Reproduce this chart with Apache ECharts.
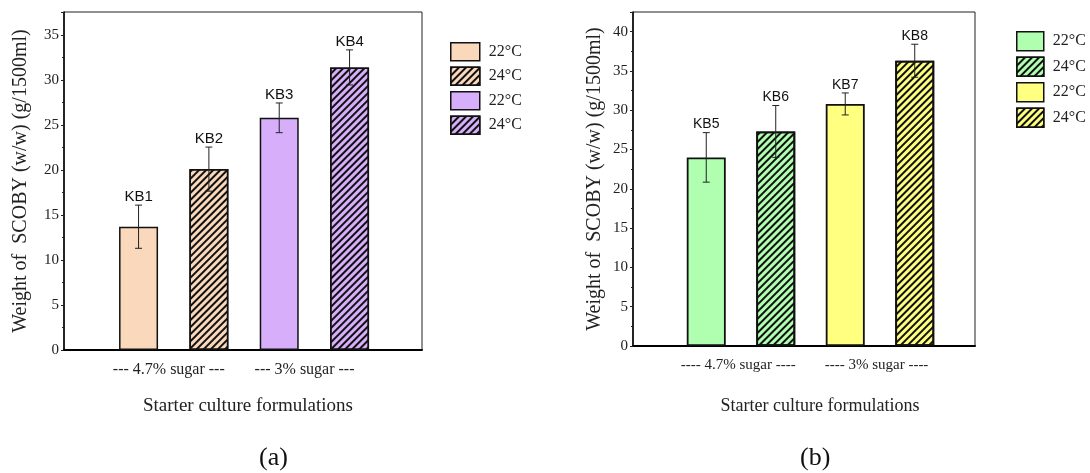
<!DOCTYPE html>
<html>
<head>
<meta charset="utf-8">
<script src="https://cdn.jsdelivr.net/npm/echarts@6/dist/echarts.min.js"></script>
<style>
html,body{margin:0;padding:0;background:#fff;}
#chart{width:1090px;height:473px;}
</style>
</head>
<body>
<div id="chart"></div>
<script>
// ---- Data: panel (a) ----
const namesA = ['KB1', 'KB2', 'KB3', 'KB4'];
const valuesA = [13.7, 20.1, 25.8, 31.4];
const errorsA = [2.4, 2.45, 1.65, 1.95];
const legendA = ['22°C', '24°C', '22°C', '24°C'];
const groupsA = ['--- 4.7% sugar ---', '--- 3% sugar ---'];
// ---- Data: panel (b) ----
const namesB = ['KB5', 'KB6', 'KB7', 'KB8'];
const valuesB = [24.0, 27.3, 30.8, 36.3];
const errorsB = [3.15, 3.3, 1.4, 2.1];
const legendB = ['22°C', '24°C', '22°C', '24°C'];
const groupsB = ['---- 4.7% sugar ----', '---- 3% sugar ----'];
const yTicks = [0, 5, 10, 15, 20, 25, 30, 35, 40];
const xTitle = 'Starter culture formulations';
const yTitle = 'Weight of  SCOBY (w/w) (g/1500ml)';
const panelTags = ['(a)', '(b)'];

const SERIF = 'Liberation Serif, Times New Roman, serif';
const SANS = 'Liberation Sans, Arial, sans-serif';
const colorsA = ['#F9D8BB', '#F9D8BB', '#D6AEFA', '#D6AEFA'];
const colorsB = ['#B0FFB0', '#B0FFB0', '#FFFF80', '#FFFF80'];
const hatched = [false, true, false, true];

function hatch(line, gap) {
  return {
    symbol: 'rect', symbolSize: 1, color: '#111',
    dashArrayX: [1, 0], dashArrayY: [line, gap],
    rotation: -Math.PI / 4
  };
}

const chart = echarts.init(document.getElementById('chart'), null, {renderer: 'canvas'});

function panelAxes(gi, ymax, xmin, xmax, groups, labelPos, labelSize, nameSize, nameGap, namePad, yNameGap) {
  const x = {
    type: 'value', gridIndex: gi, min: xmin, max: xmax,
    splitLine: {show: false},
    axisLine: {show: true, onZero: false, lineStyle: {color: '#000', width: 2}},
    axisTick: {show: false},
    axisLabel: {
      customValues: labelPos,
      formatter: function (v) { return v < 2.5 ? groups[0] : groups[1]; },
      fontFamily: SERIF, fontSize: labelSize, color: '#222', margin: 12
    },
    name: xTitle, nameLocation: 'middle', nameGap: nameGap,
    nameTextStyle: {fontFamily: SERIF, fontSize: nameSize, color: '#222', padding: namePad}
  };
  const y = {
    type: 'value', gridIndex: gi, min: 0, max: ymax, interval: 5,
    splitLine: {show: false},
    axisLine: {show: true, onZero: false, lineStyle: {color: '#000', width: 1.5}},
    axisTick: {show: true, length: 3, inside: false, lineStyle: {color: '#222'}},
    minorTick: {show: true, splitNumber: 2, length: 2, lineStyle: {color: '#222'}},
    axisLabel: {fontFamily: SERIF, fontSize: 15, color: '#222', margin: 5, showMaxLabel: false,
      formatter: function (v) { return yTicks.indexOf(v) >= 0 ? String(v) : ''; }},
    name: yTitle, nameLocation: 'middle', nameGap: yNameGap,
    nameTextStyle: {fontFamily: SERIF, fontSize: 20, color: '#222'}
  };
  return {x: x, y: y};
}

const axA = panelAxes(0, 37.56, -0.06, 5.03, groupsA, [1.43, 3.36], 16, 19, 47, [0, 0, 0, 10], 33);
const axB = panelAxes(1, 42.5, -0.054, 4.867, groupsB, [1.46, 3.45], 15, 18, 51, [0, 0, 0, 32], 28);

function barSeries(names, values, colors, gi, line, gap, bw, borderW) {
  return names.map(function (n, i) {
    const style = {color: colors[i], borderColor: '#111', borderWidth: borderW};
    if (hatched[i]) style.decal = hatch(line, gap);
    return {
      type: 'bar', name: n, xAxisIndex: gi, yAxisIndex: gi,
      barWidth: bw, barGap: '-100%',
      data: [[i + 1, values[i]]],
      itemStyle: style,
      emphasis: {disabled: true},
      z: 2
    };
  });
}

function errSeries(names, values, errors, gi, fontSize) {
  return {
    type: 'custom', xAxisIndex: gi, yAxisIndex: gi, z: 5, silent: true,
    data: values.map(function (v, i) { return [i + 1, v, errors[i]]; }),
    renderItem: function (params, api) {
      const x = api.value(0), v = api.value(1), e = api.value(2);
      const top = api.coord([x, v + e]);
      const bot = api.coord([x, v - e]);
      const c = 3.5;
      const st = {stroke: '#222', lineWidth: 1};
      return {
        type: 'group', children: [
          {type: 'line', shape: {x1: top[0], y1: top[1], x2: bot[0], y2: bot[1]}, style: st},
          {type: 'line', shape: {x1: top[0] - c, y1: top[1], x2: top[0] + c, y2: top[1]}, style: st},
          {type: 'line', shape: {x1: bot[0] - c, y1: bot[1], x2: bot[0] + c, y2: bot[1]}, style: st},
          {type: 'text', x: top[0], y: top[1] - 1,
            style: {text: names[params.dataIndex], fill: '#111', fontFamily: SANS, fontSize: fontSize,
              align: 'center', verticalAlign: 'bottom'}}
        ]
      };
    }
  };
}

function legendFor(names, labels, left, top, iw, ih) {
  return {
    orient: 'vertical', left: left, top: top, itemWidth: iw, itemHeight: ih, itemGap: 5,
    padding: 0,
    icon: 'rect', data: names, selectedMode: false,
    formatter: function (n) { return labels[names.indexOf(n)]; },
    textStyle: {fontFamily: SERIF, fontSize: 16, color: '#222', padding: [0, 0, 0, 4]},
    itemStyle: {borderColor: '#111', borderWidth: 1.5}
  };
}

const option = {
  animation: false,
  backgroundColor: '#fff',
  grid: [
    {left: 64, top: 12, width: 358, height: 338, show: true, borderColor: '#222', borderWidth: 1},
    {left: 633, top: 12, width: 342, height: 334, show: true, borderColor: '#222', borderWidth: 1}
  ],
  xAxis: [axA.x, axB.x],
  yAxis: [axA.y, axB.y],
  legend: [
    legendFor(namesA, legendA, 450, 42, 29, 18),
    legendFor(namesB, legendB, 1016, 31, 27, 19)
  ],
  graphic: [
    {type: 'text', left: 259, top: 445, style: {text: panelTags[0], fontFamily: SERIF, fontSize: 26, fill: '#111'}},
    {type: 'text', left: 800, top: 445, style: {text: panelTags[1], fontFamily: SERIF, fontSize: 26, fill: '#111'}}
  ],
  series: [].concat(
    barSeries(namesA, valuesA, colorsA, 0, 1.1, 2.1, 39, 1.5),
    barSeries(namesB, valuesB, colorsB, 1, 1.2, 2.6, 39, 1.8),
    [errSeries(namesA, valuesA, errorsA, 0, 15), errSeries(namesB, valuesB, errorsB, 1, 14)]
  )
};
chart.setOption(option);
</script>
</body>
</html>
